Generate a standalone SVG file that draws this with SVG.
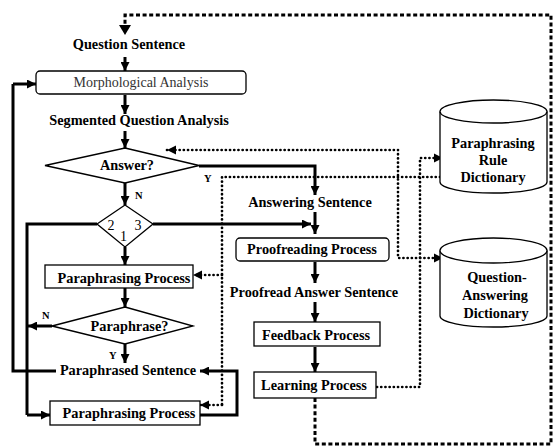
<svg xmlns="http://www.w3.org/2000/svg" width="555" height="447" viewBox="0 0 555 447">
<defs>
<style>
text{font-family:"Liberation Serif","Times New Roman",serif;fill:#000;}
.t{font-size:14.3px;font-weight:bold;text-anchor:middle;}
.m{font-size:14px;font-weight:normal;text-anchor:middle;fill:#333;}
.yn{font-size:10.5px;font-weight:bold;}
.d{font-size:14px;font-weight:normal;text-anchor:middle;}
.box{fill:#fff;stroke:#000;stroke-width:1.3;}
.sh{fill:#fff;stroke:#000;stroke-width:1.3;}
.s{fill:none;stroke:#000;stroke-width:3;}
.sa{fill:none;stroke:#000;stroke-width:3;marker-end:url(#ah);}
.dot{fill:none;stroke:#000;stroke-width:2.7;stroke-dasharray:0.1 4.1;stroke-linecap:round;}
.doa{fill:none;stroke:#000;stroke-width:2.7;stroke-dasharray:0.1 4.1;stroke-linecap:round;marker-end:url(#ah2);}
.thk{fill:none;stroke:#000;stroke-width:3;stroke-dasharray:4 2.6;}
</style>
<marker id="ah" viewBox="0 0 10 10" refX="10" refY="5" markerWidth="3" markerHeight="3" orient="auto" markerUnits="strokeWidth">
<path d="M0,0 L10,5 L0,10 z" fill="#000"/>
</marker>
<marker id="ah2" viewBox="0 0 10 10" refX="10" refY="5" markerWidth="3.4" markerHeight="3.4" orient="auto" markerUnits="strokeWidth">
<path d="M0,0 L10,5 L0,10 z" fill="#000"/>
</marker>
<marker id="ah2s" viewBox="0 0 10 10" refX="0" refY="5" markerWidth="3.4" markerHeight="3.4" orient="auto" markerUnits="strokeWidth">
<path d="M10,0 L0,5 L10,10 z" fill="#000"/>
</marker>
</defs>

<g id="connectors">
<!-- thick dotted feedback loop -->
<path class="thk" d="M315,398 V444 H551 V15 H125 V25"/>
<path d="M119,25 L131,25 L125,35 z" fill="#000"/>
<!-- main solid arrows -->
<path class="sa" d="M125,57 V71"/>
<path class="sa" d="M125,95 V114"/>
<path class="sa" d="M125,131 V148"/>
<path class="sa" d="M125,183 V205"/>
<path class="sa" d="M199,166 H315 V195"/>
<path class="sa" d="M315,212 V234"/>
<path class="sa" d="M153,224 H311"/>
<path class="sa" d="M125,247 V265"/>
<path class="s" d="M97,224 H27 V415"/>
<path class="sa" d="M27,415 H50"/>
<path class="sa" d="M125,288 V307"/>
<path class="sa" d="M52,326 H28"/>
<path class="sa" d="M125,344 V363"/>
<path class="s" d="M56,371 H13 V84"/>
<path class="sa" d="M13,84 H36"/>
<path class="sa" d="M200,415 H237 V371 H200"/>
<path class="sa" d="M315,262 V283"/>
<path class="sa" d="M315,302 V322"/>
<path class="sa" d="M315,347 V372"/>
<!-- dotted connectors -->
<path class="doa" d="M167,150 H398 V258 H443" style="marker-start:url(#ah2s)"/>
<path class="doa" d="M377,387 H420 V158 H443"/>
<path class="dot" d="M440,177 H222 V405"/>
<path class="doa" d="M222,275 H193"/>
<path class="doa" d="M222,405 H200"/>
</g>

<g id="question-sentence">
<text class="t" x="129" y="49">Question Sentence</text>
</g>
<g id="morphological-analysis">
<rect class="box" x="36" y="71" width="210" height="23" rx="4"/>
<text class="m" x="141" y="87">Morphological Analysis</text>
</g>
<g id="segmented-question-analysis">
<text class="t" x="139" y="125">Segmented Question Analysis</text>
</g>
<g id="answer-decision">
<polygon class="sh" points="125,148 199,165.5 125,183 45,165.5"/>
<text class="t" x="127" y="170">Answer?</text>
<text class="yn" x="135" y="199">N</text>
<text class="yn" x="204" y="182">Y</text>
</g>
<g id="branch-123">
<polygon class="sh" points="125,205 153,224 125,247 97,224"/>
<text class="d" x="111" y="230">2</text>
<text class="d" x="138" y="230">3</text>
<text class="d" x="123.5" y="241">1</text>
</g>
<g id="answering-sentence">
<text class="t" x="310" y="207">Answering Sentence</text>
</g>
<g id="proofreading-process">
<rect class="box" x="236" y="238" width="153" height="23" rx="4"/>
<text class="t" x="312" y="254">Proofreading Process</text>
</g>
<g id="paraphrasing-process-1">
<rect class="box" x="45" y="265" width="148" height="23"/>
<text class="t" x="124" y="283">Paraphrasing Process</text>
</g>
<g id="proofread-answer-sentence">
<text class="t" x="314" y="297">Proofread Answer Sentence</text>
</g>
<g id="paraphrase-decision">
<polygon class="sh" points="125,307 193,326 125,344 52,326"/>
<text class="t" x="129.5" y="331">Paraphrase?</text>
<text class="yn" x="42" y="319">N</text>
<text class="yn" x="109" y="359">Y</text>
</g>
<g id="feedback-process">
<rect class="box" x="254" y="322" width="126" height="24"/>
<text class="t" x="316" y="340">Feedback Process</text>
</g>
<g id="paraphrased-sentence">
<text class="t" x="128" y="375">Paraphrased Sentence</text>
</g>
<g id="learning-process">
<rect class="box" x="254" y="372" width="122" height="26"/>
<text class="t" x="314" y="390">Learning Process</text>
</g>
<g id="paraphrasing-process-2">
<rect class="box" x="50" y="401" width="150" height="24"/>
<text class="t" x="129" y="418">Paraphrasing Process</text>
</g>
<g id="paraphrasing-rule-dictionary">
<path class="sh" d="M440,111.5 V182 A53.5,11 0 0 0 547,182 V111.5"/>
<ellipse class="sh" cx="493.5" cy="111.5" rx="53.5" ry="11.5"/>
<text class="t" x="493" y="148">Paraphrasing</text>
<text class="t" x="493" y="165">Rule</text>
<text class="t" x="493" y="182">Dictionary</text>
</g>
<g id="question-answering-dictionary">
<path class="sh" d="M440,250.5 V316 A53.5,11 0 0 0 547,316 V250.5"/>
<ellipse class="sh" cx="493.5" cy="250.5" rx="53.5" ry="12.5"/>
<text class="t" x="497" y="282">Question-</text>
<text class="t" x="495" y="300">Answering</text>
<text class="t" x="496" y="318">Dictionary</text>
</g>
</svg>
